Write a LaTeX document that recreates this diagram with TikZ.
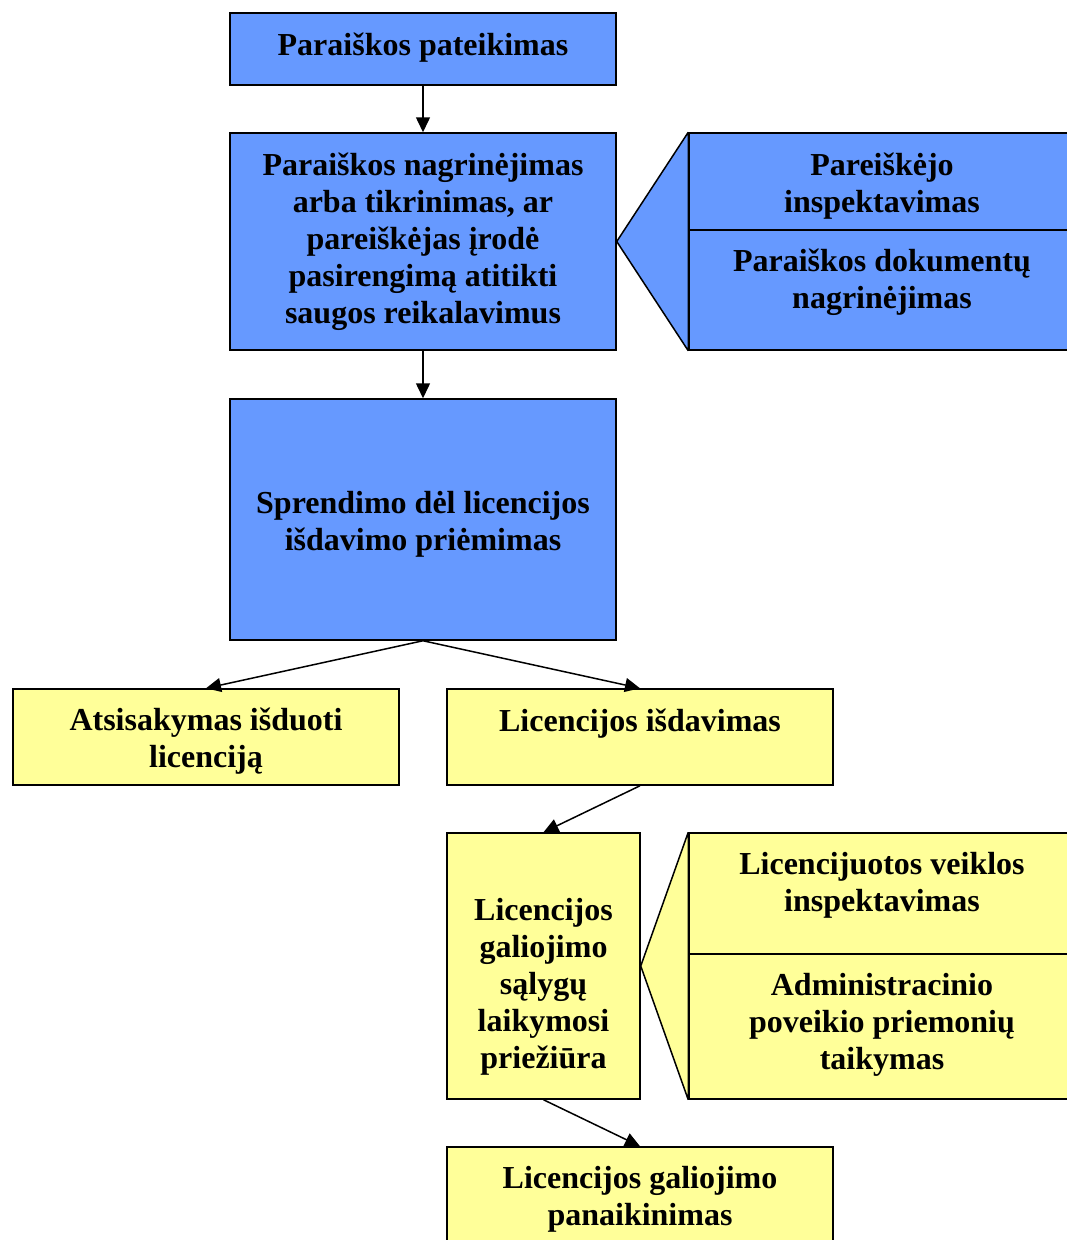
\documentclass[tikz,border=0pt]{standalone}
\usepackage{fontspec}
\setmainfont{Liberation Serif}
\usetikzlibrary{arrows.meta}
\definecolor{melyna}{HTML}{6699FF}
\definecolor{geltona}{HTML}{FFFF99}
\tikzset{
  langas/.style={draw=black, line width=1.5pt, minimum width=386pt, inner sep=0pt},
  melynas/.style={langas, fill=melyna},
  geltonas/.style={langas, fill=geltona},
  tekstas/.style={font=\fontsize{32pt}{37pt}\selectfont\bfseries, align=center, anchor=north, inner sep=0pt},
  rodykle/.style={-{Triangle[length=15pt,width=14pt]}, line width=1.5pt},
}
% tekstas langelio viršuje
\newcommand{\uzrasas}[3][20pt]{\node[tekstas] (t-#2) at ([yshift=-#1]#2.north) {#3};}
\begin{document}
\begin{tikzpicture}[x=1pt, y=-1pt, line join=miter]
  \useasboundingbox (0,0) rectangle (1067,1240);
  \clip (0,0) rectangle (1067,1240);
  % mėlyni langeliai
  \node[melynas, minimum height=72pt] (pateikimas) at (423,49) {};
  \node[melynas, minimum height=217pt] (nagrinejimas) at (423,241.5) {};
  \node[melynas, minimum height=241pt] (sprendimas) at (423,519.5) {};
  \node[melynas, minimum height=97pt] (inspektavimas) at (882,181.5) {};
  \node[melynas, minimum height=120pt] (dokumentai) at (882,290) {};
  \filldraw[fill=melyna, line width=1.5pt, line join=bevel] (nagrinejimas.east)
    -- (inspektavimas.north west) -- (dokumentai.south west) -- cycle;
  % geltoni langeliai
  \node[geltonas, minimum height=96pt] (atsisakymas) at (206,737) {};
  \node[geltonas, minimum height=96pt] (isdavimas) at (640,737) {};
  \node[geltonas, minimum width=193pt, minimum height=266pt] (prieziura) at (543.5,966) {};
  \node[geltonas, minimum height=121pt] (veikla) at (882,893.5) {};
  \node[geltonas, minimum height=145pt] (poveikis) at (882,1026.5) {};
  \node[geltonas, minimum height=96pt] (panaikinimas) at (640,1195) {};
  \filldraw[fill=geltona, line width=1.5pt, line join=bevel] (prieziura.east)
    -- (veikla.north west) -- (poveikis.south west) -- cycle;
  % užrašai
  \uzrasas{pateikimas}{Paraiškos pateikimas}
  \uzrasas{nagrinejimas}{Paraiškos nagrinėjimas\\arba tikrinimas, ar\\pareiškėjas įrodė\\pasirengimą atitikti\\saugos reikalavimus}
  \uzrasas[93pt]{sprendimas}{Sprendimo dėl licencijos\\išdavimo priėmimas}
  \uzrasas{inspektavimas}{Pareiškėjo\\inspektavimas}
  \uzrasas[19pt]{dokumentai}{Paraiškos dokumentų\\nagrinėjimas}
  \uzrasas[19pt]{atsisakymas}{Atsisakymas išduoti\\licenciją}
  \uzrasas{isdavimas}{Licencijos išdavimas}
  \uzrasas[66pt]{prieziura}{Licencijos\\galiojimo\\sąlygų\\laikymosi\\priežiūra}
  \uzrasas{veikla}{Licencijuotos veiklos\\inspektavimas}
  \uzrasas{poveikis}{Administracinio\\poveikio priemonių\\taikymas}
  \uzrasas{panaikinimas}{Licencijos galiojimo\\panaikinimas}
  % rodyklės
  \draw[rodykle] (pateikimas.south) -- (nagrinejimas.north);
  \draw[rodykle] (nagrinejimas.south) -- (sprendimas.north);
  \draw[rodykle] (sprendimas.south) -- (atsisakymas.north);
  \draw[rodykle] (sprendimas.south) -- (isdavimas.north);
  \draw[rodykle] (isdavimas.south) -- (prieziura.north);
  \draw[rodykle] (prieziura.south) -- (panaikinimas.north);
\end{tikzpicture}
\end{document}
